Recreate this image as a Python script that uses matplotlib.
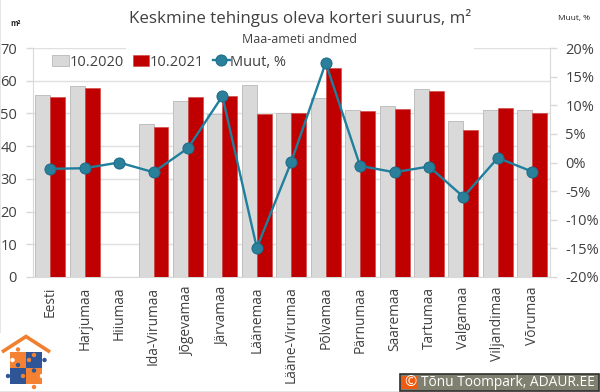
import matplotlib
matplotlib.use("Agg")
import matplotlib.pyplot as plt
from matplotlib.patches import Rectangle, Circle

plt.rcParams['font.family'] = ['Open Sans', 'DejaVu Sans']

categories = ["Eesti", "Harjumaa", "Hiiumaa", "Ida-Virumaa", "Jõgevamaa", "Järvamaa", "Läänemaa",
              "Lääne-Virumaa", "Põlvamaa", "Pärnumaa", "Saaremaa", "Tartumaa", "Valgamaa",
              "Viljandimaa", "Võrumaa"]
oct_2020 = [55.5, 58.3, 0, 46.7, 53.7, 49.9, 58.6, 50.2, 54.7, 51.2, 52.2, 57.4, 47.8, 51.2, 51.0]
oct_2021 = [55.0, 57.8, 0, 45.9, 55.0, 55.3, 49.8, 50.2, 63.9, 50.7, 51.4, 57.0, 44.8, 51.6, 50.0]
change_pct = [-1.1, -1.0, 0.0, -1.7, 2.5, 11.6, -14.9, 0.1, 17.4, -0.6, -1.7, -0.7, -6.0, 0.8, -1.6]
left_ticks = [0, 10, 20, 30, 40, 50, 60, 70]
right_ticks = [-20, -15, -10, -5, 0, 5, 10, 15, 20]

W, H = 600, 392
TXT = '#404040'
fig = plt.figure(figsize=(W/100, H/100), dpi=100)
ax = fig.add_axes([33/W, 1-277/H, 516.5/W, 229/H])
x = list(range(len(categories)))
bw = 0.435
ax.bar([i-bw/2 for i in x], oct_2020, bw, color='#d9d9d9', edgecolor='#bfbfbf', linewidth=0.7, label='10.2020', zorder=2)
ax.bar([i+bw/2 for i in x], oct_2021, bw, color='#c00000', edgecolor='#d04040', linewidth=0.4, label='10.2021', zorder=3)
ax.set_xlim(-0.5, len(categories)-0.5)
ax.set_ylim(0, 70)
ax.set_yticks(left_ticks)
ax.set_xticks(x)
ax.set_xticklabels(categories, rotation=90, fontsize=9.9, color=TXT)
ax.tick_params(axis='x', length=0, pad=7)
ax.tick_params(axis='y', length=5, width=1, color='#d9d9d9', labelsize=10.5, labelcolor=TXT, pad=6.5)
ax.grid(axis='y', color='#e0e0e0', linewidth=1, zorder=0)
ax.set_axisbelow(True)
for s in ['top', 'right']:
    ax.spines[s].set_visible(False)
for s in ['left', 'bottom']:
    ax.spines[s].set_color('#d9d9d9')

ax2 = ax.twinx()
ax2.plot(x, change_pct, color='#1f7f9c', linewidth=1.7, marker='o', markersize=8,
         markerfacecolor='#2a7f9b', markeredgecolor='#1d6a85', markeredgewidth=0.7,
         label='Muut, %', zorder=5, clip_on=False)
ax2.set_ylim(-20, 20)
ax2.set_yticks(right_ticks)
ax2.set_yticklabels([f"{t}%" for t in right_ticks])
ax2.tick_params(axis='y', length=5, width=1, color='#d9d9d9', labelsize=10.5, labelcolor=TXT, pad=6.5)
for s in ['top', 'left', 'bottom']:
    ax2.spines[s].set_visible(False)
ax2.spines['right'].set_color('#d9d9d9')

h1, l1 = ax.get_legend_handles_labels()
h2, l2 = ax2.get_legend_handles_labels()
ax2.legend(h1+h2, l1+l2, ncols=3, frameon=False, fontsize=10.5, labelcolor=TXT,
           loc='center left', bbox_to_anchor=(19/516.5, 1-14/229), handlelength=1.15,
           handleheight=0.7, handletextpad=0.05, columnspacing=0.6, borderpad=0, borderaxespad=0)

ov = fig.add_axes([0, 0, 1, 1], zorder=10)
ov.set_xlim(0, W); ov.set_ylim(H, 0); ov.axis('off'); ov.patch.set_alpha(0)
# white band behind subtitle hides the top gridline
ov.add_patch(Rectangle((126, 44), 348, 8, fc='white', ec='none'))
ov.text(300, 18, "Keskmine tehingus oleva korteri suurus, m²", ha='center', va='center', fontsize=12.2, color=TXT)
ov.text(300, 39, "Maa-ameti andmed", ha='center', va='center', fontsize=9, color=TXT)
ov.text(16, 23.5, "m²", ha='center', va='center', fontsize=5.5, color='#202020', fontweight='bold')
ov.text(574, 18, "Muut, %", ha='center', va='center', fontsize=6, color='#202020')
# image border
ov.add_patch(Rectangle((0, 0), 1, H, fc='#e6e6e6', ec='none'))
ov.add_patch(Rectangle((0, H-1.5), W, 1.5, fc='#e6e6e6', ec='none'))

# logo
ov.add_patch(Rectangle((0, 333), 52, 58, fc='white', ec='none'))
ov.plot([2, 26, 50], [352, 336.5, 352], color='#f08030', linewidth=2.6, solid_capstyle='butt', solid_joinstyle='miter')
orange, blue = '#f58233', '#2f5597'
ov.add_patch(Rectangle((10, 352), 16, 16, fc=orange, ec='none'))
ov.add_patch(Rectangle((26, 352), 16, 16, fc=blue, ec='none'))
ov.add_patch(Rectangle((10, 368), 16, 16, fc=blue, ec='none'))
ov.add_patch(Rectangle((26, 368), 16, 16, fc=orange, ec='none'))
for cx, cy, c in [(18, 349.5, orange), (18, 365, blue), (34, 355, orange), (44.5, 360, blue), (12.5, 360, 'white'),
                  (8, 376, blue), (23, 376, orange), (34, 370.5, blue), (42, 376, 'white'), (34, 387, orange), (29, 360, orange)]:
    ov.add_patch(Circle((cx, cy), 2.2, fc=c, ec='none'))

# copyright box
ov.add_patch(Rectangle((399.5, 373.5), 199.5, 17, fc='#808070', ec='#303030', linewidth=1.2))
ov.add_patch(Rectangle((402, 375.5), 16, 13, fc='#f05a10', ec='none'))
ov.text(410, 382, "©", ha='center', va='center', fontsize=10.5, color='white')
ov.text(421, 382.5, "Tõnu Toompark, ADAUR.EE", ha='left', va='center', fontsize=9.9, color='white')

fig.savefig("out.png", dpi=100)
